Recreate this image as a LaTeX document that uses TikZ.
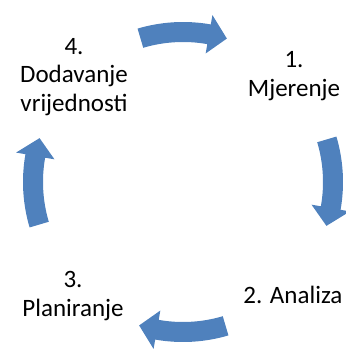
\documentclass[tikz,border=0pt]{standalone}
\usepackage{fontspec}
\setmainfont{Carlito}
\definecolor{cycblue}{HTML}{4F81BD}
\begin{document}
\begin{tikzpicture}[x=1pt,y=1pt,
  stage/.style={align=center, font=\fontsize{25}{28.5}\selectfont, inner sep=0pt},
  cyc/.style={fill=cycblue}]
\useasboundingbox (0,0) rectangle (346,349);
% centre of the cycle
\coordinate (c) at (183,167);
% Draw the four curved arrows, each one turned by a quarter
\foreach \k in {0,...,3}
{
  \fill[cyc, shift={(c)}, rotate=-90*\k]
    (106.5:160pt) arc[start angle=106.5, end angle=80, radius=160pt]
    -- (80:169.5pt) -- (73:150pt) -- (80:130.5pt) -- (80:140pt)
    arc[start angle=80, end angle=106.5, radius=140pt] -- cycle;
}
% Draw the stages
\node[stage] (s1) at (294,273) {1.\\Mjerenje};
\node[stage] (s2) at (293,54) {2. Analiza};
\node[stage] (s3) at (73,53) {3.\\Planiranje};
\node[stage] (s4) at (74,272) {4.\\Dodavanje\\vrijednosti};
\end{tikzpicture}
\end{document}
